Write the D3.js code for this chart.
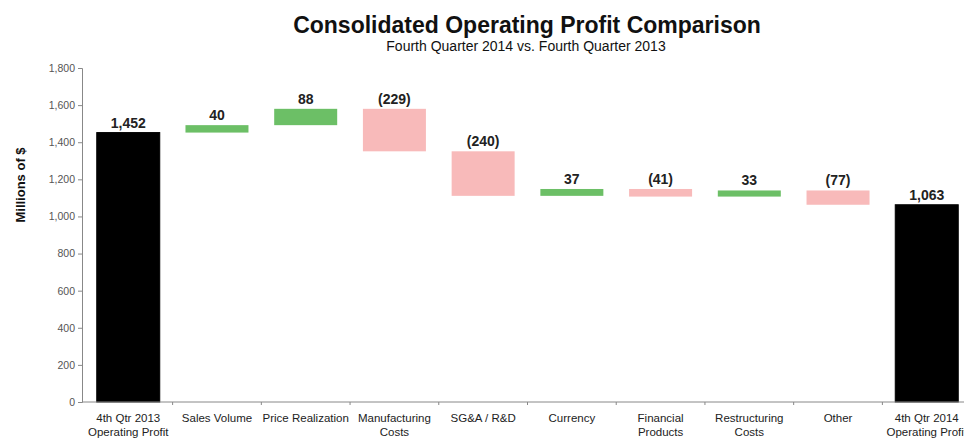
<!DOCTYPE html>
<html><head><meta charset="utf-8">
<script src="https://cdn.jsdelivr.net/npm/d3@7"></script>
<style>body{margin:0;background:#fff}svg{display:block}</style>
</head><body><div id="chart"></div>
<script>
const categories = [["4th Qtr 2013","Operating Profit"],["Sales Volume"],["Price Realization"],["Manufacturing","Costs"],["SG&A / R&D"],["Currency"],["Financial","Products"],["Restructuring","Costs"],["Other"],["4th Qtr 2014","Operating Profit"]];
const changes = [1452, 40, 88, -229, -240, 37, -41, 33, -77, 1063];
const kinds = ["total","delta","delta","delta","delta","delta","delta","delta","delta","total"];
const valueLabels = ["1,452","40","88","(229)","(240)","37","(41)","33","(77)","1,063"];
const yTicks = [0,200,400,600,800,1000,1200,1400,1600,1800];

const W=964,H=438;
const svg=d3.select("#chart").append("svg").attr("width",W).attr("height",H);
const font="'Liberation Sans Narrow','Arial Narrow','Liberation Sans',Arial,sans-serif";
const x=d3.scaleBand().domain(d3.range(categories.length)).range([83,972]).paddingInner(0.29).paddingOuter(0.155);
const y=d3.scaleLinear().domain([0,1800]).range([402,68]);

let cum=0; const bars=changes.map((v,i)=>{
  if(kinds[i]==="total"){cum=v;return {i,y0:0,y1:v,k:"total"};}
  const s=cum; cum+=v; return {i,y0:Math.min(s,cum),y1:Math.max(s,cum),k:v>=0?"pos":"neg"};
});
const fill={total:"#000",pos:"#6cbf66",neg:"#f8baba"};

svg.append("text").attr("x",527).attr("y",33).attr("text-anchor","middle").attr("font-family",font).attr("font-weight","bold").attr("font-size",23).attr("fill","#111").text("Consolidated Operating Profit Comparison");
svg.append("text").attr("x",526).attr("y",51).attr("text-anchor","middle").attr("font-family",font).attr("font-size",14).attr("fill","#111").text("Fourth Quarter 2014 vs. Fourth Quarter 2013");

svg.append("text").attr("transform","translate(25,185) rotate(-90)").attr("text-anchor","middle").attr("font-family",font).attr("font-weight","bold").attr("font-size",13).attr("fill","#111").text("Millions of $");

const ya=svg.append("g").attr("transform","translate(82,0)").call(d3.axisLeft(y).tickValues(yTicks).tickSize(4).tickFormat(d3.format(",")));
ya.select(".domain").attr("stroke","#888");
ya.selectAll(".tick line").attr("stroke","#888");
ya.selectAll("text").attr("font-family","'Liberation Sans',Arial,sans-serif").attr("font-size",10.5).attr("fill","#555");

svg.selectAll("rect.bar").data(bars).enter().append("rect")
 .attr("x",d=>x(d.i)).attr("width",x.bandwidth())
 .attr("y",d=>y(d.y1)).attr("height",d=>Math.max(1,y(d.y0)-y(d.y1)))
 .attr("fill",d=>fill[d.k]).attr("stroke",d=>d.k==="total"?"#000":"none");

svg.selectAll("text.val").data(bars).enter().append("text")
 .attr("x",d=>x(d.i)+x.bandwidth()/2).attr("y",d=>y(d.y1)-5)
 .attr("text-anchor","middle").attr("font-family","'Liberation Sans',Arial,sans-serif").attr("font-weight","bold").attr("font-size",14).attr("fill","#222")
 .text(d=>valueLabels[d.i]);

const xa=svg.append("g").attr("transform","translate(0,402)");
xa.append("line").attr("x1",82).attr("x2",972).attr("stroke","#888");
const step=x.step();
xa.selectAll("line.t").data(d3.range(1,categories.length)).enter().append("line")
 .attr("x1",i=>x(i)-x.paddingInner()*step/2).attr("x2",i=>x(i)-x.paddingInner()*step/2).attr("y1",0).attr("y2",3).attr("stroke","#888");
const lbl=xa.selectAll("text.c").data(categories).enter().append("text")
 .attr("text-anchor","middle").attr("font-family",font).attr("font-size",11.5).attr("fill","#222")
 .attr("transform",(d,i)=>`translate(${x(i)+x.bandwidth()/2},0)`);
lbl.selectAll("tspan").data(d=>d).enter().append("tspan").attr("x",0).attr("y",(d,j)=>20+j*14).text(d=>d);
</script></body></html>
